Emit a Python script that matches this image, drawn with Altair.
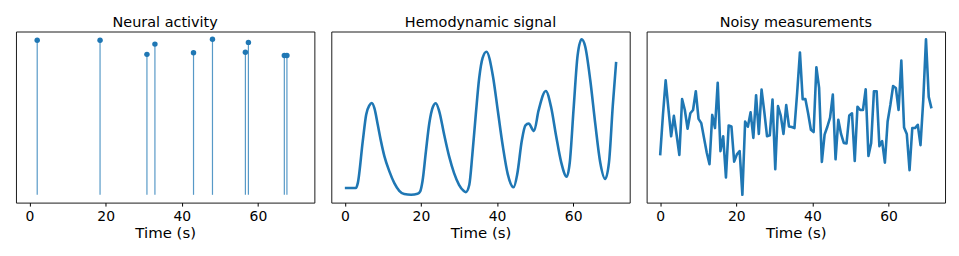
import altair as alt
import pandas as pd

# ---------------- data ----------------
stem_times = [2.02, 18.53, 30.85, 32.95, 43.09, 48.07, 56.72, 57.51, 66.95, 67.63]
stem_values = [0.994, 0.994, 0.903, 0.969, 0.914, 1.0, 0.917, 0.980, 0.896, 0.896]

hrf_times = [0.0, 2.9, 3.4, 4.7, 5.6, 6.45, 7.08, 7.76, 8.65, 9.5, 10.4, 11.7, 13.0,
             14.3, 15.6, 17.4, 19.1, 19.8, 20.4, 21.3, 22.2, 23.1, 23.9, 24.8, 26.1,
             27.4, 28.7, 30.0, 31.2, 31.8, 32.7, 33.5, 34.4, 35.3, 36.2, 37.2, 38.9,
             40.2, 41.5, 42.8, 44.35, 45.3, 46.5, 47.45, 48.3, 49.7, 50.9, 52.8, 54.2,
             55.5, 56.85, 58.3, 59.1, 60.1, 61.15, 62.2, 63.15, 64.5, 65.8, 67.1, 68.4,
             69.4, 70.4, 71.28]
hrf_values = [0.0, 0.0, 0.033, 0.311, 0.489, 0.551, 0.567, 0.533, 0.422, 0.311, 0.211,
              0.111, 0.033, -0.018, -0.040, -0.045, -0.038, -0.022, 0.045, 0.245, 0.433,
              0.538, 0.565, 0.511, 0.355, 0.211, 0.100, 0.022, -0.018, -0.027, 0.022,
              0.222, 0.489, 0.733, 0.867, 0.908, 0.747, 0.513, 0.280, 0.093, 0.005,
              0.093, 0.317, 0.417, 0.429, 0.380, 0.517, 0.647, 0.538, 0.349, 0.171,
              0.075, 0.171, 0.527, 0.882, 0.991, 0.943, 0.715, 0.427, 0.171, 0.061,
              0.171, 0.549, 0.840]

sample_step = 0.72
noise_values = [1.33, 2.55, 3.61, 2.75, 1.91, 2.53, 1.95, 1.34, 3.04, 2.71,
                2.14, 2.61, 2.71, 3.28, 2.44, 2.31, 1.86, 1.41, 1.06, 2.56,
                2.16, 3.54, 1.46, 1.91, 0.66, 2.24, 2.21, 1.14, 1.36, 1.46,
                0.13, 2.36, 2.20, 2.64, 1.86, 3.16, 1.98, 3.33, 2.65, 1.91,
                1.94, 3.03, 0.91, 2.83, 2.54, 1.98, 2.86, 2.21, 2.19, 2.16,
                3.25, 4.46, 3.04, 3.04, 2.60, 2.11, 2.04, 4.01, 3.38, 1.13,
                1.96, 2.20, 2.48, 3.18, 1.21, 2.41, 1.98, 1.71, 1.69, 2.54,
                2.61, 1.16, 2.81, 2.71, 2.71, 3.34, 1.31, 1.71, 3.28, 3.28,
                1.61, 1.76, 1.11, 2.36, 2.86, 3.44, 3.38, 2.71, 4.21, 2.18,
                1.98, 0.88, 2.16, 2.16, 2.26, 1.64, 3.00, 4.86, 3.11, 2.76]
noise_times = [round(i * sample_step, 2) for i in range(len(noise_values))]

x_ticks = [0, 20, 40, 60]
titles = ["Neural activity", "Hemodynamic signal", "Noisy measurements"]
x_title = "Time (s)"

# ---------------- styling ----------------
BLUE = "#1f77b4"
FONT = "DejaVu Sans"
W, H = 300, 172


def pad_domain(lo, hi, frac=0.05):
    r = hi - lo
    return [lo - frac * r, hi + frac * r]


t_end = noise_times[-1]
x_dom = pad_domain(0, t_end)

x_axis = alt.Axis(values=x_ticks, title=x_title, grid=False, domain=False,
                  tickColor="black", tickSize=3.5, tickWidth=1,
                  labelFont=FONT, labelFontSize=14, labelColor="black",
                  titleFont=FONT, titleFontSize=15, titleColor="black",
                  titleFontWeight="normal", labelPadding=3, titlePadding=3,
                  format="d", labelFlush=False)
x_scale = alt.Scale(domain=x_dom, nice=False, zero=False)


def ttl(text):
    return alt.TitleParams(text, font=FONT, fontSize=14.5, fontWeight="normal",
                           color="black", offset=1)


# panel 1: stems
stem_df = pd.DataFrame({"t": stem_times, "v": stem_values, "base": 0.0})
y1 = alt.Scale(domain=pad_domain(0, max(stem_values)), nice=False, zero=False)
stems = alt.Chart(stem_df).mark_rule(color=BLUE, strokeWidth=1.2, opacity=0.75).encode(
    x=alt.X("t:Q", scale=x_scale, axis=x_axis),
    y=alt.Y("v:Q", scale=y1, axis=None),
    y2="base:Q",
)
heads = alt.Chart(stem_df).mark_circle(color=BLUE, size=30, opacity=1).encode(
    x=alt.X("t:Q", scale=x_scale, axis=x_axis),
    y=alt.Y("v:Q", scale=y1, axis=None),
)
p1 = (stems + heads).properties(width=W, height=H, title=ttl(titles[0]))

# panel 2: hemodynamic
hrf_df = pd.DataFrame({"t": hrf_times, "v": hrf_values})
y2 = alt.Scale(domain=pad_domain(min(hrf_values), max(hrf_values)), nice=False, zero=False)
p2 = alt.Chart(hrf_df).mark_line(color=BLUE, strokeWidth=2.6, interpolate="monotone",
                                 strokeJoin="round").encode(
    x=alt.X("t:Q", scale=x_scale, axis=x_axis),
    y=alt.Y("v:Q", scale=y2, axis=None),
).properties(width=W, height=H, title=ttl(titles[1]))

# panel 3: noisy
noise_df = pd.DataFrame({"t": noise_times, "v": noise_values})
y3 = alt.Scale(domain=pad_domain(min(noise_values), max(noise_values)), nice=False, zero=False)
p3 = alt.Chart(noise_df).mark_line(color=BLUE, strokeWidth=2.6, strokeJoin="round").encode(
    x=alt.X("t:Q", scale=x_scale, axis=x_axis),
    y=alt.Y("v:Q", scale=y3, axis=None),
).properties(width=W, height=H, title=ttl(titles[2]))

chart = alt.hconcat(p1, p2, p3, spacing=15).properties(
    padding={"left": 7, "top": 6, "right": 5, "bottom": 5},
    background="white",
).configure_view(stroke="#1a1a1a", strokeWidth=1)

chart.save("out.html", embed_options={"renderer": "svg", "actions": False})
